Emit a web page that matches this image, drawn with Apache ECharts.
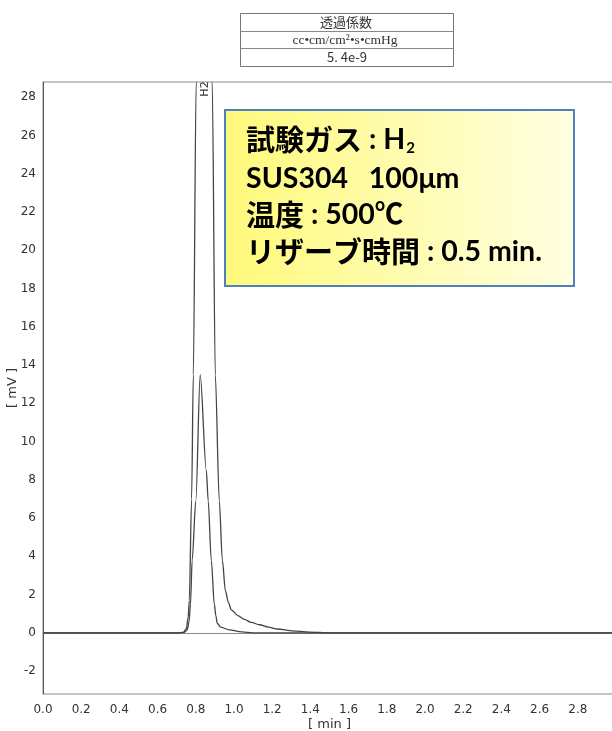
<!DOCTYPE html>
<html>
<head>
<meta charset="utf-8">
<script src="https://cdn.jsdelivr.net/npm/echarts@6/dist/echarts.min.js"></script>
<style>
html,body{margin:0;padding:0;background:#fff;}
#c{width:612px;height:731px;}
</style>
</head>
<body>
<div id="c"></div>
<script>
// x ticks
const xTickLabels = ['0.0','0.2','0.4','0.6','0.8','1.0','1.2','1.4','1.6','1.8','2.0','2.2','2.4','2.6','2.8'];
const yTickLabels = [-2,0,2,4,6,8,10,12,14,16,18,20,22,24,26,28];

// Curve 1 (large H2 peak, goes off scale)
const timeA  = [0, 0.70, 0.735, 0.75, 0.76, 0.766, 0.778, 0.787, 0.802, 0.844, 0.886, 0.902, 0.923, 0.939, 0.955, 0.970, 0.986, 1.02, 1.054, 1.09, 1.133, 1.18, 1.227, 1.306, 1.395, 1.50, 3.0];
const valueA = [0, 0, 0.02, 0.2, 0.8, 1.7, 7.0, 13.5, 28.8, 60, 28.8, 13.5, 6.9, 3.8, 2.2, 1.6, 1.2, 0.9, 0.7, 0.55, 0.42, 0.3, 0.2, 0.1, 0.04, 0, 0];

// Curve 2 (smaller peak, 13.5 mV)
const timeB  = [0, 0.70, 0.74, 0.755, 0.765, 0.772, 0.781, 0.80, 0.823, 0.855, 0.865, 0.881, 0.897, 0.905, 0.912, 0.93, 0.975, 1.04, 1.1, 3.0];
const valueB = [0, 0, 0.02, 0.15, 0.6, 1.5, 3.8, 6.9, 13.5, 8.5, 6.9, 3.8, 1.5, 0.9, 0.5, 0.3, 0.15, 0.05, 0, 0];

const tableRows = ['透過係数', 'cc•cm/cm²•s•cmHg', '5. 4e-9'];
const noteLines = [
  '{c|試験ガス}{l| : H}{s|2}',
  '{l|SUS304   100μm}',
  '{c|温度}{l| : 500℃}',
  '{c|リザーブ時間}{l| : 0.5 min.}'
];

const chart = echarts.init(document.getElementById('c'), null, {renderer: 'canvas'});

const lineStyle = {color: '#444', width: 1.3};
const noteRich = {
  c: {font: 'bold 29px "Noto Sans CJK JP", sans-serif', fill: '#000', verticalAlign: 'middle'},
  l: {font: 'bold 28.5px Lato, "Noto Sans CJK JP", sans-serif', fill: '#000', verticalAlign: 'middle'},
  s: {font: 'bold 15px Lato, sans-serif', fill: '#000', padding: [17, 0, 0, 1]}
};

const option = {
  backgroundColor: '#fff',
  animation: false,
  grid: {left: 43, right: -4, top: 82, bottom: 37, outerBoundsMode: 'none', containLabel: false,
    show: true, borderColor: '#8a8a8a', borderWidth: 1, backgroundColor: 'transparent'},
  xAxis: {
    type: 'value', min: 0, max: 3.0, interval: 0.2,
    name: '[ min ]', nameLocation: 'middle', nameGap: 24, nameMoveOverlap: false,
    nameTextStyle: {color: '#333', fontSize: 13, fontFamily: 'DejaVu Sans'},
    axisLine: {show: true, lineStyle: {color: '#8a8a8a'}},
    axisTick: {show: false}, splitLine: {show: false},
    axisLabel: {color: '#333', fontSize: 12, fontFamily: 'DejaVu Sans', margin: 10, showMaxLabel: false,
      formatter: v => { const s = v.toFixed(1); return xTickLabels.indexOf(s) >= 0 ? s : ''; }}
  },
  yAxis: {
    type: 'value', min: -3.2, max: 28.8, minInterval: 2, maxInterval: 2, splitNumber: 16,
    name: '[ mV ]', nameLocation: 'middle', nameGap: 24, nameRotate: 90, nameMoveOverlap: false,
    nameTextStyle: {color: '#333', fontSize: 13, fontFamily: 'DejaVu Sans'},
    axisLine: {show: true, lineStyle: {color: '#555'}},
    axisTick: {show: false}, splitLine: {show: false},
    axisLabel: {color: '#333', fontSize: 12, fontFamily: 'DejaVu Sans', margin: 7, showMinLabel: false, showMaxLabel: false,
      formatter: v => (yTickLabels.indexOf(Math.round(v * 10) / 10) >= 0 ? String(Math.round(v)) : '')}
  },
  series: [
    {type: 'line', data: timeA.map((t, i) => [t, valueA[i]]), showSymbol: false, smooth: 0.3, smoothMonotone: 'x', lineStyle: lineStyle, clip: true},
    {type: 'line', data: timeB.map((t, i) => [t, valueB[i]]), showSymbol: false, smooth: 0.3, smoothMonotone: 'x', lineStyle: lineStyle, clip: true}
  ],
  graphic: {elements: [
    // table
    {type: 'rect', shape: {x: 240.5, y: 13.5, width: 213, height: 53}, style: {fill: '#fff', stroke: '#777', lineWidth: 1}},
    {type: 'line', shape: {x1: 240.5, y1: 31.5, x2: 453.5, y2: 31.5}, style: {stroke: '#888', lineWidth: 1}},
    {type: 'line', shape: {x1: 240.5, y1: 48.5, x2: 453.5, y2: 48.5}, style: {stroke: '#888', lineWidth: 1}},
    {type: 'text', x: 346, y: 22.5, style: {text: tableRows[0], font: '13px "Noto Sans CJK JP"', fill: '#333', align: 'center', verticalAlign: 'middle'}},
    {type: 'text', x: 345, y: 40, style: {text: tableRows[1], font: '13.5px "Liberation Serif"', fill: '#333', align: 'center', verticalAlign: 'middle'}},
    {type: 'text', x: 347, y: 57.5, style: {text: tableRows[2], font: '13px "Noto Sans CJK JP"', fill: '#333', align: 'center', verticalAlign: 'middle'}},
    // H2 peak label
    {type: 'text', x: 205.5, y: 89, rotation: Math.PI / 2, style: {text: 'H2', font: '11px "DejaVu Sans"', fill: '#333', align: 'center', verticalAlign: 'middle'}},
    // note box
    {type: 'rect', shape: {x: 225, y: 110, width: 349, height: 176},
      style: {stroke: '#4f81bd', lineWidth: 2,
        fill: new echarts.graphic.LinearGradient(0, 0, 1, 0, [{offset: 0, color: '#fff97a'}, {offset: 1, color: '#ffffe2'}])}},
    {type: 'text', x: 246, y: 140, style: {text: noteLines[0], rich: noteRich, verticalAlign: 'middle'}},
    {type: 'text', x: 246, y: 179, style: {text: noteLines[1], rich: noteRich, verticalAlign: 'middle'}},
    {type: 'text', x: 246, y: 215, style: {text: noteLines[2], rich: noteRich, verticalAlign: 'middle'}},
    {type: 'text', x: 246, y: 252, style: {text: noteLines[3], rich: noteRich, verticalAlign: 'middle'}}
  ]}
};
chart.setOption(option);
</script>
</body>
</html>
